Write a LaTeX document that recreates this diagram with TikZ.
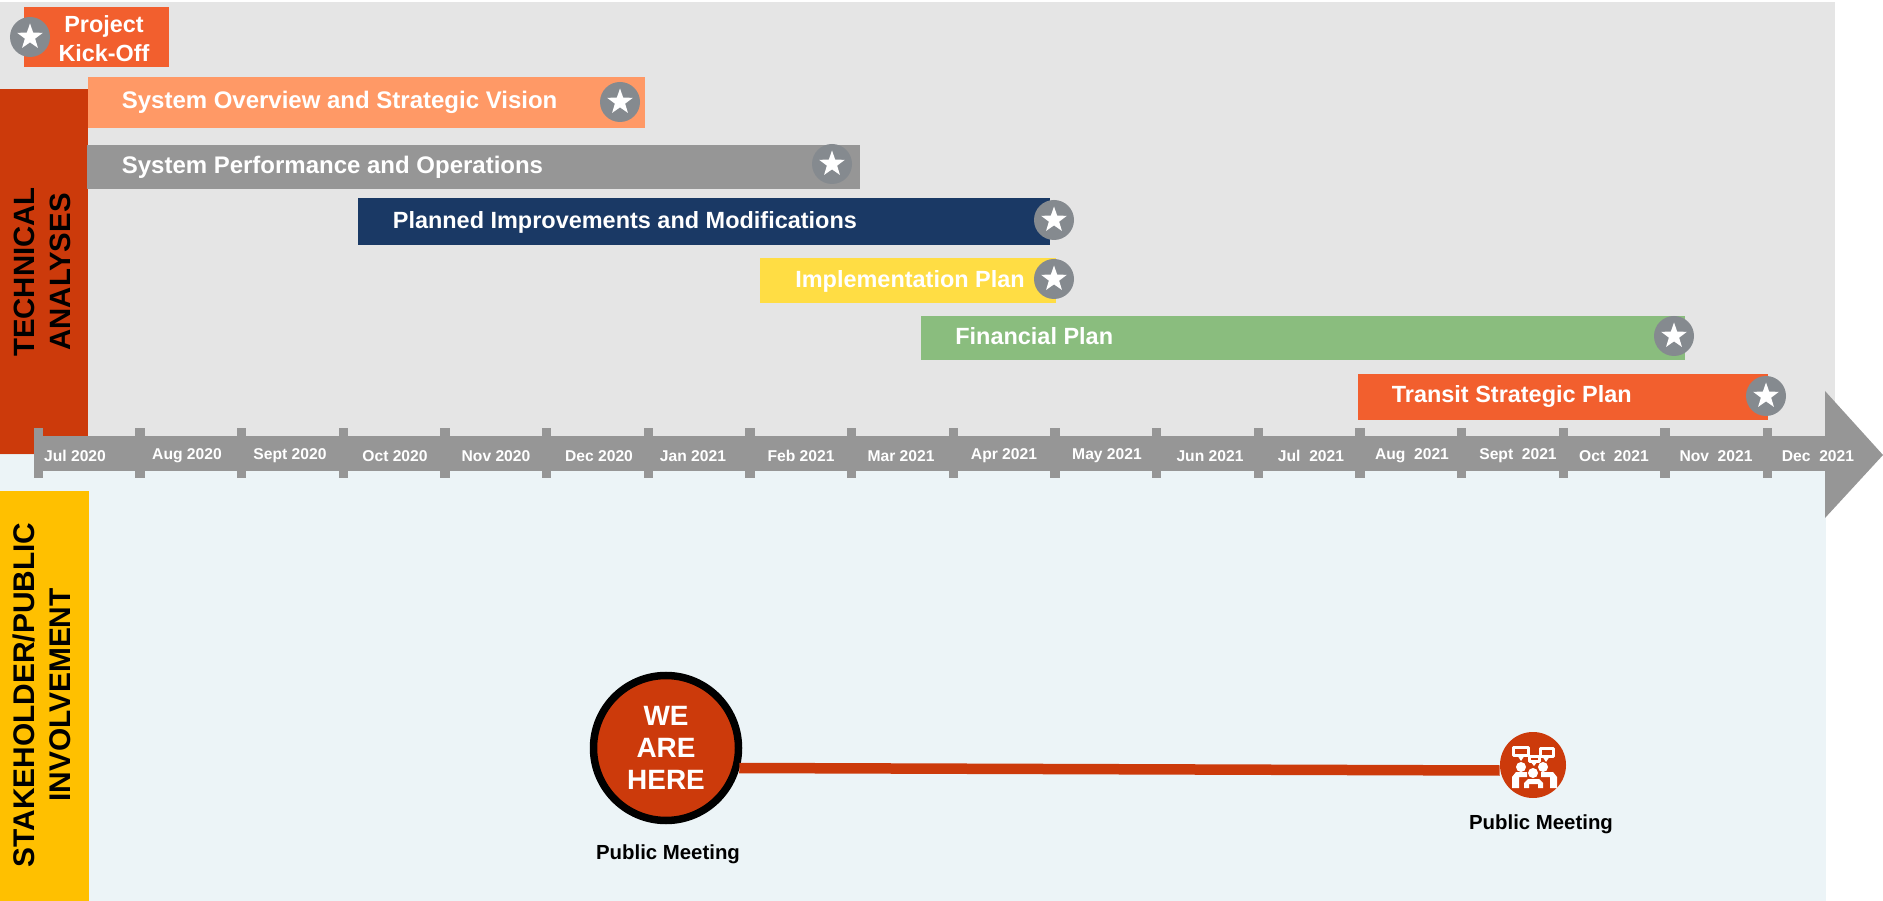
\documentclass[tikz,border=0pt]{standalone}
\usepackage{fontspec}
\setmainfont{Liberation Sans}
\usetikzlibrary{shapes.geometric}
\definecolor{techgray}{HTML}{E5E5E5}
\definecolor{publicblue}{HTML}{ECF4F7}
\definecolor{brick}{HTML}{CC3A0B}
\definecolor{amber}{HTML}{FFC000}
\definecolor{coral}{HTML}{F25F2E}
\definecolor{peach}{HTML}{FF9966}
\definecolor{axisgray}{HTML}{969696}
\definecolor{navy}{HTML}{1A3965}
\definecolor{lemon}{HTML}{FFDD44}
\definecolor{leaf}{HTML}{8ABD7E}
\definecolor{badgegray}{HTML}{858A8F}
\begin{document}
\begin{tikzpicture}[x=0.2mm, y=-0.2mm]
    \tikzstyle{tasklabel} = [anchor=west, inner sep=0pt, text=white, font=\fontsize{13.65}{16}\selectfont\bfseries]
    \tikzstyle{tasklabelsmall} = [tasklabel, font=\fontsize{13.35}{16}\selectfont\bfseries]
    \tikzstyle{sidelabel} = [rotate=90, align=center, inner sep=0pt, text=black, font=\fontsize{17}{20.5}\selectfont\bfseries]
    \tikzstyle{monthlabel} = [inner sep=0pt, text=white, font=\fontsize{8.9}{11}\selectfont\bfseries]
    \tikzstyle{meetinglabel} = [inner sep=0pt, text=black, font=\fontsize{11.6}{14}\selectfont\bfseries]
    \tikzstyle{badge} = [circle, fill=badgegray, inner sep=0pt, minimum size=8mm]
    \tikzstyle{badgestar} = [star, star points=5, star point ratio=2.5, fill=white, inner sep=0pt, minimum size=5.4mm]
    \tikzstyle{tick} = [fill=axisgray, draw=none]
    \tikzstyle{iconline} = [draw=white, line width=0.6mm, fill=none, line join=round]
    \tikzstyle{iconfill} = [fill=white, draw=none]
    \useasboundingbox (0, 0) rectangle (1883, 901);

    \fill[techgray] (0, 2) rectangle (1835, 455);
    \fill[publicblue] (0, 455) rectangle (1826, 901);
    \fill[brick] (0, 89) rectangle (88, 454);
    \fill[amber] (0, 491) rectangle (89, 901);
    \node[sidelabel, font=\fontsize{16.7}{20.5}\selectfont\bfseries] (technical) at (42, 272) {TECHNICAL\\ANALYSES};
    \node[sidelabel] (stakeholder) at (42, 695) {STAKEHOLDER/PUBLIC\\INVOLVEMENT};

    \fill[coral] (24, 7) rectangle (169, 67);
    \fill[peach] (88, 77) rectangle (645, 128);
    \fill[axisgray] (87, 145) rectangle (860, 189);
    \fill[navy] (358, 198) rectangle (1050, 245);
    \fill[lemon] (760, 258) rectangle (1056, 303);
    \fill[leaf] (921, 316) rectangle (1685, 360);
    \fill[coral] (1358, 374) rectangle (1768, 420);

    \node[align=center, inner sep=0pt, text=white, font=\fontsize{13.3}{16.6}\selectfont\bfseries] (kickoff) at (104, 38.5) {Project\\Kick-Off};
    \node[tasklabel] (overview) at (121.5, 102.5) {System Overview and Strategic Vision};
    \node[tasklabel] (performance) at (121.5, 167.5) {System Performance and Operations};
    \node[tasklabelsmall] (planned) at (392.5, 222.5) {Planned Improvements and Modifications};
    \node[tasklabelsmall] (implementation) at (795, 281.5) {Implementation Plan};
    \node[tasklabelsmall] (financial) at (955, 336) {Financial Plan};
    \node[tasklabelsmall] (transit) at (1391.5, 396.5) {Transit Strategic Plan};

    \node[badge] (kickoffbadge) at (30, 37) {};
    \node[badgestar] (kickoffstar) at (30, 37) {};
    \node[badge] (overviewbadge) at (620, 102) {};
    \node[badgestar] (overviewstar) at (620, 102) {};
    \node[badge] (performancebadge) at (832, 164) {};
    \node[badgestar] (performancestar) at (832, 164) {};
    \node[badge] (plannedbadge) at (1054, 220) {};
    \node[badgestar] (plannedstar) at (1054, 220) {};
    \node[badge] (implementationbadge) at (1054, 279) {};
    \node[badgestar] (implementationstar) at (1054, 279) {};
    \node[badge] (financialbadge) at (1674, 336) {};
    \node[badgestar] (financialstar) at (1674, 336) {};
    \node[badge] (transitbadge) at (1766, 396) {};
    \node[badgestar] (transitstar) at (1766, 396) {};

    \fill[axisgray] (34, 436) rectangle (1825, 471);
    \fill[axisgray] (1825, 391) -- (1883, 455) -- (1825, 518) -- cycle;
    \draw[tick] (34, 428) rectangle (43, 478);
    \draw[tick] (135, 428) rectangle (145, 478);
    \draw[tick] (237, 428) rectangle (246, 478);
    \draw[tick] (339, 428) rectangle (348, 478);
    \draw[tick] (440, 428) rectangle (450, 478);
    \draw[tick] (542, 428) rectangle (551, 478);
    \draw[tick] (644, 428) rectangle (653, 478);
    \draw[tick] (745, 428) rectangle (755, 478);
    \draw[tick] (847, 428) rectangle (856, 478);
    \draw[tick] (949, 428) rectangle (958, 478);
    \draw[tick] (1050, 428) rectangle (1060, 478);
    \draw[tick] (1152, 428) rectangle (1161, 478);
    \draw[tick] (1254, 428) rectangle (1263, 478);
    \draw[tick] (1355, 428) rectangle (1365, 478);
    \draw[tick] (1457, 428) rectangle (1466, 478);
    \draw[tick] (1559, 428) rectangle (1568, 478);
    \draw[tick] (1660, 428) rectangle (1670, 478);
    \draw[tick] (1763, 428) rectangle (1772, 478);

    \node[monthlabel] (jul20) at (75, 456) {Jul 2020};
    \node[monthlabel] (aug20) at (187, 456) {Aug 2020};
    \node[monthlabel] (sep20) at (290, 456) {Sept 2020};
    \node[monthlabel] (oct20) at (395, 456) {Oct 2020};
    \node[monthlabel] (nov20) at (496, 456) {Nov 2020};
    \node[monthlabel] (dec20) at (599, 456) {Dec 2020};
    \node[monthlabel] (jan21) at (693, 456) {Jan 2021};
    \node[monthlabel] (feb21) at (801, 456) {Feb 2021};
    \node[monthlabel] (mar21) at (901, 456) {Mar 2021};
    \node[monthlabel] (apr21) at (1004, 456) {Apr 2021};
    \node[monthlabel] (may21) at (1107, 456) {May 2021};
    \node[monthlabel] (jun21) at (1210, 456) {Jun 2021};
    \node[monthlabel] (jul21) at (1311, 456) {Jul\ \ 2021};
    \node[monthlabel] (aug21) at (1412, 456) {Aug\ \ 2021};
    \node[monthlabel] (sep21) at (1518, 456) {Sept\ \ 2021};
    \node[monthlabel] (oct21) at (1614, 456) {Oct\ \ 2021};
    \node[monthlabel] (nov21) at (1716, 456) {Nov\ \ 2021};
    \node[monthlabel] (dec21) at (1818, 456) {Dec\ \ 2021};

    \node[circle, fill=brick, draw=black, line width=1.5mm, inner sep=0pt, minimum size=29mm, align=center, text=white, font=\fontsize{15.9}{18.2}\selectfont\bfseries] (here) at (666, 748) {WE\\ARE\\HERE};
    \node[circle, fill=brick, inner sep=0pt, minimum size=13.2mm] (meeting) at (1533, 765) {};
    \draw[brick, line width=2.1mm] ([shift={(-3, 20)}]here.east) -- ([yshift=-1.1mm]meeting.west);
    \node[meetinglabel] (hereLabel) at (668, 854) {Public Meeting};
    \node[meetinglabel] (meetingLabel) at (1541, 824) {Public Meeting};

    \draw[iconline] (1513, 747) rectangle (1528, 755);
    \draw[iconline] (1540, 748) rectangle (1553, 756);
    \draw[iconline] (1529, 756) rectangle (1539, 761);
    \fill[iconfill] (1517, 755) -- (1525, 755) -- (1521, 761) -- cycle;
    \fill[iconfill] (1542, 756) -- (1550, 756) -- (1546, 762) -- cycle;
    \fill[iconfill] (1530, 761) -- (1538, 761) -- (1534, 766) -- cycle;
    \fill[iconfill] (1521, 767) circle[radius=5];
    \fill[iconfill] (1543, 767) circle[radius=5];
    \fill[iconfill] (1533, 773) circle[radius=5];
    \fill[iconfill] (1512, 788) -- (1512, 777) -- (1516, 772) -- (1527, 772) -- (1527, 777) -- (1519, 777) -- (1519, 788) -- cycle;
    \fill[iconfill] (1557, 788) -- (1557, 777) -- (1553, 772) -- (1541, 772) -- (1541, 777) -- (1550, 777) -- (1550, 788) -- cycle;
    \fill[iconfill] (1524, 788) -- (1524, 783) -- (1528, 779) -- (1539, 779) -- (1543, 783) -- (1543, 788) -- (1538, 788) -- (1538, 784) -- (1529, 784) -- (1529, 788) -- cycle;
\end{tikzpicture}
\end{document}
